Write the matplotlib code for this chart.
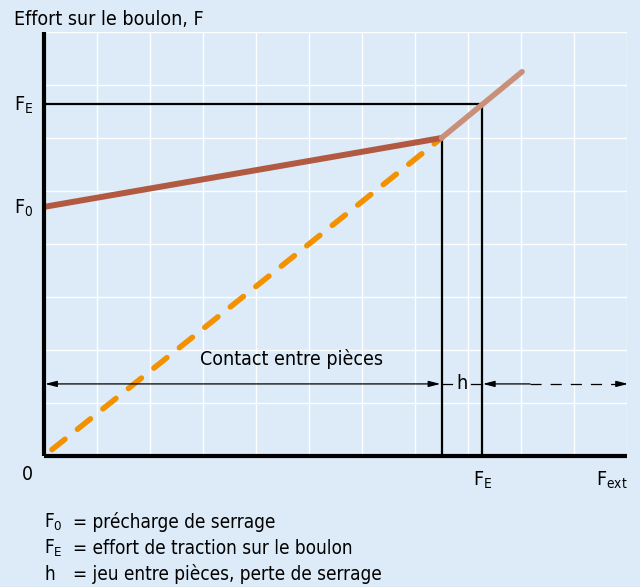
import numpy as np
import matplotlib
matplotlib.use("Agg")
import matplotlib.pyplot as plt

# ─── Diagram values (grid units: x 0..11, y 0..8) ─────────────────
F0 = 4.70          # preload
FE = 6.65          # bolt tension level
knee = (7.50, 6.00)          # separation point
FE_x = 8.26                  # external force at FE
upper_end = (9.02, 7.25)     # end of the light-brown segment
dash_start = (0.15, 0.12)    # start of the orange dashed line
arrow_y = 1.36               # height of the dimension arrows
solid_end = 9.17             # right arrow: solid part ends here
x_end = 11.02                # right arrow tip

legend_sym = [r"F$_\mathregular{0}$", r"F$_\mathregular{E}$", "h"]
legend_txt = ["= précharge de serrage",
              "= effort de traction sur le boulon",
              "= jeu entre pièces, perte de serrage"]

BG = "#dcebf7"
BROWN = "#b25a41"
LIGHT_BROWN = "#c98f79"
ORANGE = "#f39200"
FONT = dict(family="DejaVu Sans", stretch="condensed")
FS = 14

plt.rcParams["lines.scale_dashes"] = False

fig = plt.figure(figsize=(6.4, 5.87), dpi=100, facecolor=BG)
W, H = 640, 587
ax = fig.add_axes([44 / W, 131 / H, 583 / W, 424 / H], facecolor=BG)
ax.set_xlim(0, 11)
ax.set_ylim(0, 8)
ax.set_xticks(np.arange(0, 12))
ax.set_yticks(np.arange(0, 9))
ax.tick_params(length=0, labelbottom=False, labelleft=False)
ax.grid(True, color="white", lw=1.0)
ax.set_axisbelow(True)
for s in ["top", "right"]:
    ax.spines[s].set_visible(False)
for s in ["left", "bottom"]:
    ax.spines[s].set_linewidth(3)
    ax.spines[s].set_capstyle("butt")
    ax.spines[s].set_zorder(5)

# reference lines
ax.plot([0, FE_x], [FE, FE], color="black", lw=1.6, zorder=3)
ax.plot([FE_x, FE_x], [0, FE], color="black", lw=1.6, zorder=3)
ax.plot([knee[0], knee[0]], [0, knee[1]], color="black", lw=1.6, zorder=3)

# curves
ax.plot([dash_start[0], knee[0]], [dash_start[1], knee[1]], color=ORANGE,
        lw=4.0, dashes=(12, 11.5), dash_capstyle="round", zorder=3)
ax.plot([0, knee[0]], [F0, knee[1]], color=BROWN, lw=4.3,
        solid_capstyle="butt", zorder=4)
ax.plot([knee[0], upper_end[0]], [knee[1], upper_end[1]], color=LIGHT_BROWN,
        lw=4.0, solid_capstyle="round", zorder=4)

# dimension arrows
head = "head_length=0.7,head_width=0.18"
ax.annotate("", xy=(0.02, arrow_y), xytext=(knee[0] - 0.02, arrow_y),
            arrowprops=dict(arrowstyle="<|-|>," + head, color="black", lw=0.9,
                            shrinkA=0, shrinkB=0), zorder=4)
ax.plot([knee[0], knee[0] + 0.2], [arrow_y, arrow_y], color="black", lw=0.9)
ax.plot([FE_x - 0.2, FE_x], [arrow_y, arrow_y], color="black", lw=0.9)
ax.text((knee[0] + FE_x) / 2, arrow_y, "h", ha="center", va="center",
        fontsize=FS, **FONT)
ax.annotate("", xy=(FE_x + 0.02, arrow_y), xytext=(solid_end, arrow_y),
            arrowprops=dict(arrowstyle="-|>," + head, color="black", lw=0.9,
                            shrinkA=0, shrinkB=0), zorder=4)
ax.plot([solid_end, x_end - 0.2], [arrow_y, arrow_y], color="black", lw=0.9,
        dashes=(8, 6.5), clip_on=False)
ax.annotate("", xy=(x_end, arrow_y), xytext=(x_end - 0.2, arrow_y),
            arrowprops=dict(arrowstyle="-|>," + head, color="black", lw=0.9,
                            shrinkA=0, shrinkB=0), annotation_clip=False)
ax.text(4.67, arrow_y + 0.36, "Contact entre pièces", ha="center",
        va="baseline", fontsize=FS, **FONT)

# axis labels
ax.text(-0.566, 8.13, "Effort sur le boulon, F", ha="left", va="baseline",
        fontsize=FS, **FONT)
ax.text(-0.566, FE - 0.14, r"F$_\mathregular{E}$", ha="left", va="baseline",
        fontsize=FS, **FONT)
ax.text(-0.566, F0 - 0.12, r"F$_\mathregular{0}$", ha="left", va="baseline",
        fontsize=FS, **FONT)
ax.text(-0.32, -0.45, "0", ha="center", va="baseline", fontsize=FS, **FONT)
ax.text(8.09, -0.566, r"F$_\mathregular{E}$", ha="left", va="baseline",
        fontsize=FS, **FONT)
ax.text(10.42, -0.566, r"F$_\mathregular{ext}$", ha="left", va="baseline",
        fontsize=FS, **FONT)

# legend below the diagram
for i, (sym, txt) in enumerate(zip(legend_sym, legend_txt)):
    yb = -1.358 - i * 0.49
    ax.text(0.0, yb, sym, ha="left", va="baseline", fontsize=13.6, **FONT)
    ax.text(0.55, yb, txt, ha="left", va="baseline", fontsize=13.6, **FONT)

fig.savefig("out.png", dpi=100, facecolor=BG)
